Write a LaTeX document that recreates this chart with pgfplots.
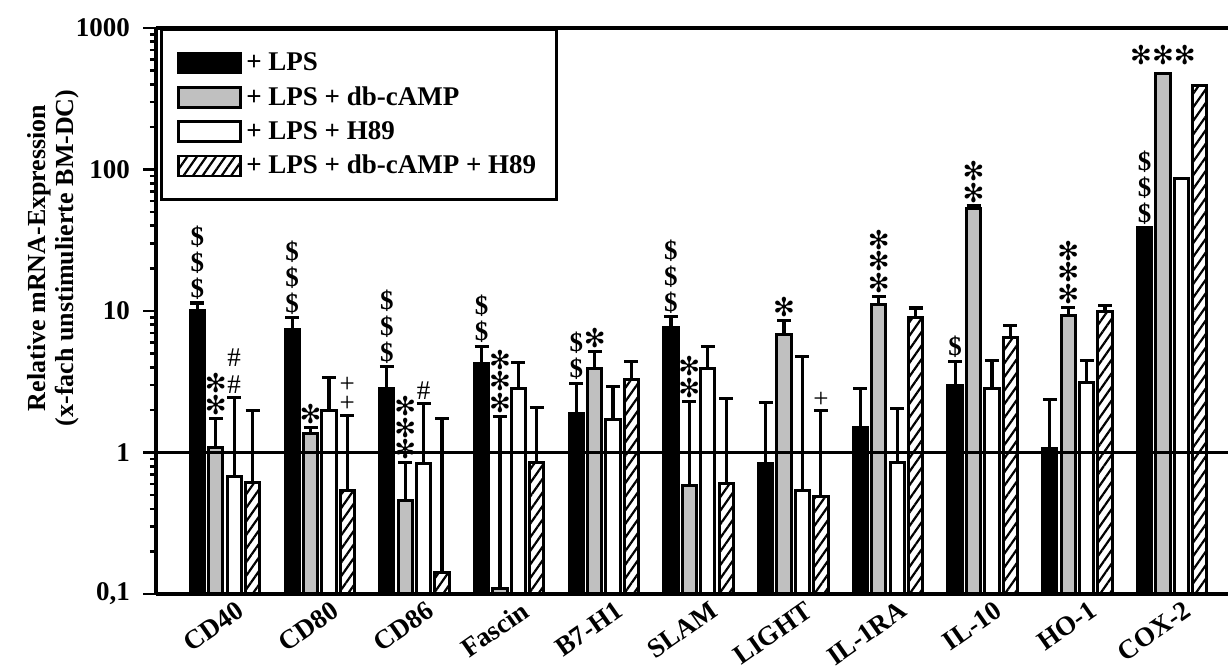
\documentclass[border=0pt]{standalone}
\usepackage{fontspec}
\setmainfont{Liberation Serif}
\newfontfamily\symfont{DejaVu Sans}
\usepackage{pgfplots}
\pgfplotsset{compat=1.18}
\usepackage{pgfplotstable}
\usetikzlibrary{patterns.meta}

% relative expression (mean) and upper error (SD) per gene
\pgfplotstableread{
x y e
0 10.1 1.3
1 7.36 1.6
2 2.85 1.2
3 4.24 1.4
4 1.88 1.21
5 7.69 1.45
6 0.83 1.44
7 1.51 1.31
8 2.97 1.43
9 1.06 1.31
10 38.7 0
}\lps
\pgfplotstableread{
x y e
0 1.09 0.66
1 1.36 0.15
2 0.46 0.39
3 0.109 1.69
4 3.91 1.29
5 0.585 1.715
6 6.8 1.77
7 11.2 1.5
8 53.3 2.1
9 9.3 1.3
10 474 0
}\lpscamp
\pgfplotstableread{
x y e
0 0.68 1.78
1 1.98 1.39
2 0.83 1.40
3 2.85 1.47
4 1.70 1.23
5 3.94 1.66
6 0.54 4.23
7 0.855 1.2
8 2.82 1.63
9 3.14 1.31
10 86 0
}\lpshn
\pgfplotstableread{
x y e
0 0.61 1.37
1 0.54 1.29
2 0.142 1.59
3 0.85 1.23
4 3.3 1.1
5 0.6 1.82
6 0.49 1.48
7 9.0 1.5
8 6.46 1.44
9 9.9 1.0
10 392 0
}\lpscamphn

\tikzset{
  sigd/.style={anchor=south, inner sep=0pt, yshift=1.5pt, align=center,
    font=\fontsize{13.5}{13}\selectfont\bfseries},
  sigs/.style={anchor=south, inner sep=0pt, yshift=1.5pt, align=center,
    font=\fontsize{13}{9.5}\selectfont\symfont},
  sigh/.style={anchor=south, inner sep=0pt, yshift=1.5pt, align=center,
    font=\fontsize{13.5}{13.5}\selectfont},
  sigp/.style={anchor=south, inner sep=0pt, yshift=1.5pt, align=center,
    font=\fontsize{13.5}{9.5}\selectfont},
}
\newcommand{\sigdol}[3]{\node[sigd] at (axis cs:#1,#2) {#3};}
\newcommand{\sigast}[3]{\node[sigs] at (axis cs:#1,#2) {#3};}
\newcommand{\sighsh}[3]{\node[sigh] at (axis cs:#1,#2) {#3};}
\newcommand{\sigpls}[3]{\node[sigp] at (axis cs:#1,#2) {#3};}

\pgfplotsset{
  mybar/.style={ybar, bar width=0.15, bar shift=0pt, draw=black, line width=1.5pt,
    legend image code/.code={\draw[##1, line width=1.4pt] (0pt,-5pt) rectangle (31pt,5pt);},
    error bars/y dir=plus, error bars/y explicit,
    error bars/error bar style={line width=1.6pt, solid, black},
    error bars/error mark options={rotate=90, mark size=3.5pt, line width=1.6pt, black}},
}

\begin{document}
\begin{tikzpicture}
\useasboundingbox (-78pt,-37.5pt) rectangle (536pt,297pt);
\begin{axis}[
  scale only axis, width=536pt, height=283pt,
  at={(0pt,0pt)}, anchor=south west,
  clip=false,
  ymode=log, ymin=0.1, ymax=1000, log origin y=infty,
  xmin=-0.729, xmax=10.59,
  axis x line*=box, axis y line*=left,
  axis line style={line width=1.6pt, black},
  tick align=outside,
  major tick length=6.5pt, minor tick length=3pt,
  ytick={0.1,1,10,100,1000},
  yticklabels={{0,1},1,10,100,1000},
  minor ytick={0.2,0.3,0.4,0.5,0.6,0.7,0.8,0.9,2,3,4,5,6,7,8,9,20,30,40,50,60,70,80,90,200,300,400,500,600,700,800,900},
  ytick style={line width=1.3pt, black},
  minor tick style={line width=1.1pt, black},
  xtick={0,1,2,3,4,5,6,7,8,9,10},
  xticklabels={CD40,CD80,CD86,Fascin,B7-H1,SLAM,LIGHT,IL-1RA,IL-10,HO-1,COX-2},
  xtick style={draw=none},
  ticklabel style={font=\fontsize{13.5}{15}\selectfont\bfseries},
  yticklabel style={xshift=-3pt},
  xticklabel style={rotate=35, anchor=north east, inner sep=0pt,
    xshift=6.5pt, yshift=0pt, font=\fontsize{13.5}{15}\selectfont\bfseries},
  ylabel={Relative mRNA-Expression\\(x-fach unstimulierte BM-DC)},
  ylabel style={align=center, font=\fontsize{13}{14}\selectfont\bfseries,
    at={(axis description cs:-0.0961,0.594)}, anchor=center},
  legend style={at={(axis description cs:0.0037,1)}, anchor=north west,
    draw=black, line width=1.5pt, fill=white,
    font=\fontsize{13.5}{15}\selectfont\bfseries,
    inner xsep=8pt, inner ysep=9.5pt, row sep=2.5pt,
    /tikz/every even column/.append style={column sep=6pt}},
  legend cell align=left,
]
\addplot[mybar, fill=black] table[x expr=\thisrow{x}-0.2915, y=y, y error=e] {\lps};
\addlegendentry{+ LPS}
\addplot[mybar, fill={rgb,255:red,192;green,192;blue,192}] table[x expr=\thisrow{x}-0.0972, y=y, y error=e] {\lpscamp};
\addlegendentry{+ LPS + db-cAMP}
\addplot[mybar, fill=white] table[x expr=\thisrow{x}+0.0972, y=y, y error=e] {\lpshn};
\addlegendentry{+ LPS + H89}
\addplot[mybar, fill=white, postaction={pattern={Lines[angle=55, distance=3.9pt, line width=1.1pt]}}] table[x expr=\thisrow{x}+0.2915, y=y, y error=e] {\lpscamphn};
\addlegendentry{+ LPS + db-cAMP + H89}

% reference level: unstimulated = 1
\draw[line width=1.1pt] (rel axis cs:0,0.25) -- (rel axis cs:1,0.25);

% significance marks
\sigdol{-0.2915}{11.4}{\$\\\$\\\$}
\sigast{-0.0972}{1.75}{✻\\✻}
\sighsh{0.0972}{2.46}{\#\\\#}
\sigdol{0.7085}{8.95}{\$\\\$\\\$}
\sigast{0.9028}{1.51}{✻}
\sigpls{1.2915}{1.83}{+\\+}
\sigdol{1.7085}{4.05}{\$\\\$\\\$}
\sigast{1.9028}{0.85}{✻\\✻\\✻}
\sighsh{2.0972}{2.23}{\#}
\sigdol{2.7085}{5.64}{\$\\\$}
\sigast{2.9028}{1.80}{✻\\✻\\✻}
\sigdol{3.7085}{3.09}{\$\\\$}
\sigast{3.9028}{5.2}{✻}
\sigdol{4.7085}{9.14}{\$\\\$\\\$}
\sigast{4.9028}{2.3}{✻\\✻}
\sigast{5.9028}{8.57}{✻}
\sigpls{6.2915}{1.97}{+}
\sigast{6.9028}{12.7}{✻\\✻\\✻}
\sigdol{7.7085}{4.4}{\$}
\sigast{7.9028}{55.4}{✻\\✻}
\sigast{8.9028}{10.6}{✻\\✻\\✻}
\sigdol{9.7085}{38.7}{\$\\\$\\\$}
\node[sigs, yshift=3pt] at (axis cs:9.9028,474) {✻✻✻};
\end{axis}
\end{tikzpicture}
\end{document}
